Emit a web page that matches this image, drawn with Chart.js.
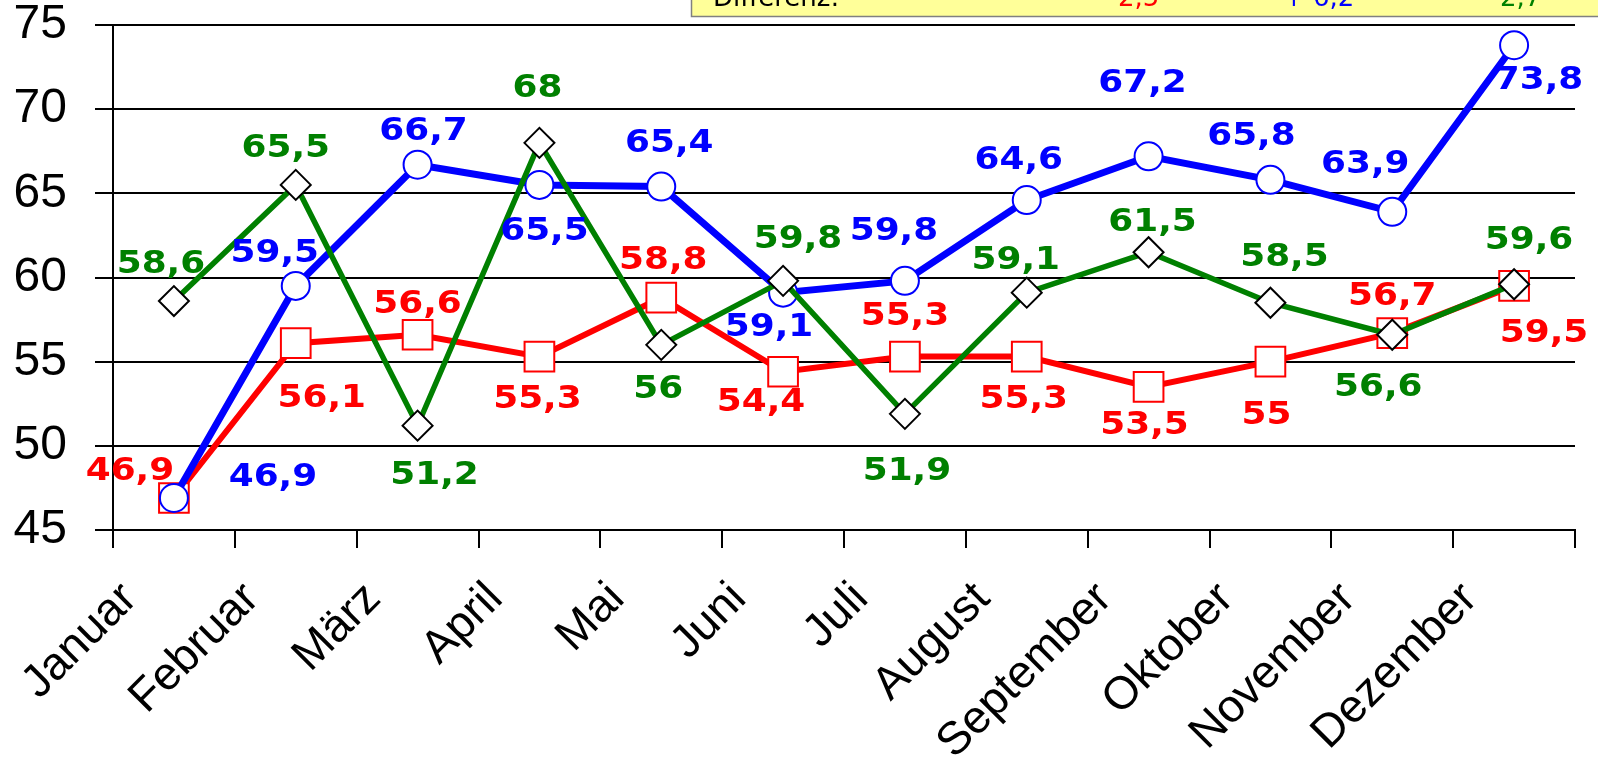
<!DOCTYPE html>
<html><head><meta charset="utf-8">
<script src="https://cdn.jsdelivr.net/npm/chart.js@4.4.1/dist/chart.umd.min.js"></script>
<style>html,body{margin:0;padding:0;background:#fff;overflow:hidden}#wrap{width:1598px;height:760px;position:relative}</style>
</head><body><div id="wrap"><canvas id="c"></canvas></div>
<script>
const months = ["Januar","Februar","März","April","Mai","Juni","Juli","August","September","Oktober","November","Dezember"];
const seriesRed   = [46.9, 56.1, 56.6, 55.3, 58.8, 54.4, 55.3, 55.3, 53.5, 55, 56.7, 59.5];
const seriesBlue  = [46.9, 59.5, 66.7, 65.5, 65.4, 59.1, 59.8, 64.6, 67.2, 65.8, 63.9, 73.8];
const seriesGreen = [58.6, 65.5, 51.2, 68, 56, 59.8, 51.9, 59.1, 61.5, 58.5, 56.6, 59.6];
const yMin = 45, yMax = 75, yStep = 5;
const boxTexts = ["Differenz:", "2,5", "+ 6,2", "2,7"];

// label placement (pixel offsets from each point) - styling only
const redLabelOffsets   = [[-44,-26],[26,56],[0,-30],[-2,43],[2,-37],[-22,31],[0,-40],[-3,43],[-4,39],[-4,54],[0,-36],[30,48]];
const blueLabelOffsets  = [[99,-20],[-21,-32],[6,-33],[5,47],[8,-43],[-14,35],[-11,-49],[-8,-39],[-6,-73],[-19,-43],[-27,-47],[25,35]];
const greenLabelOffsets = [[-13,-36],[-10,-36],[17,50],[-2,-54],[-3,45],[15,-41],[2,58],[-11,-32],[4,-30],[14,-45],[-14,53],[15,-44]];

const fmt = v => String(v).replace('.', ',');

const labelPlugin = {
  id: 'valueLabels',
  afterDatasetsDraw(chart) {
    const ctx = chart.ctx;
    chart.data.datasets.forEach((ds, di) => {
      const meta = chart.getDatasetMeta(di);
      meta.data.forEach((pt, i) => {
        const o = ds.labelOffsets[i];
        ctx.save();
        ctx.translate(pt.x + o[0], pt.y + o[1]);
        ctx.scale(1.12, 1);
        ctx.font = 'bold 32px "DejaVu Sans"';
        ctx.fillStyle = ds.labelColor;
        ctx.textAlign = 'center';
        ctx.textBaseline = 'middle';
        ctx.fillText(fmt(ds.data[i]), 0, 0);
        ctx.restore();
      });
    });
  }
};

const boxPlugin = {
  id: 'diffBox',
  afterDraw(chart) {
    const ctx = chart.ctx;
    ctx.save();
    ctx.fillStyle = '#FFFF99';
    ctx.strokeStyle = '#808080';
    ctx.lineWidth = 1.5;
    ctx.fillRect(691, -10, 1000, 26);
    ctx.beginPath();
    ctx.moveTo(691.5, -10); ctx.lineTo(691.5, 16.5); ctx.lineTo(1700, 16.5);
    ctx.stroke();
    ctx.font = '26px "DejaVu Sans"';
    ctx.textBaseline = 'alphabetic';
    ctx.textAlign = 'left';
    const xs = [713, 1118, 1283, 1500];
    const cols = ['#000000', '#FF0000', '#0000FF', '#008000'];
    boxTexts.forEach((t, i) => { ctx.fillStyle = cols[i]; ctx.fillText(t, xs[i], 6); });
    ctx.restore();
  }
};

new Chart(document.getElementById('c'), {
  type: 'line',
  data: {
    labels: months,
    datasets: [
      { label: 'rot', data: seriesRed, borderColor: '#FF0000', labelColor: '#FF0000', borderWidth: 6,
        pointStyle: 'rect', pointRadius: 21, pointBackgroundColor: '#FFFFFF', pointBorderColor: '#FF0000', pointBorderWidth: 2,
        tension: 0, order: 2, labelOffsets: redLabelOffsets },
      { label: 'blau', data: seriesBlue, borderColor: '#0000FF', labelColor: '#0000FF', borderWidth: 7,
        pointStyle: 'circle', pointRadius: 14, pointBackgroundColor: '#FFFFFF', pointBorderColor: '#0000FF', pointBorderWidth: 2,
        tension: 0, order: 1, labelOffsets: blueLabelOffsets },
      { label: 'grün', data: seriesGreen, borderColor: '#008000', labelColor: '#008000', borderWidth: 5.5,
        pointStyle: 'rectRot', pointRadius: 15, pointBackgroundColor: '#FFFFFF', pointBorderColor: '#000000', pointBorderWidth: 2,
        tension: 0, order: 0, labelOffsets: greenLabelOffsets }
    ]
  },
  options: {
    responsive: true,
    maintainAspectRatio: false,
    devicePixelRatio: 1,
    animation: false,
    layout: { padding: { top: 25, right: 9, left: 0, bottom: 0 } },
    plugins: { legend: { display: false }, tooltip: { enabled: false } },
    scales: {
      x: {
        offset: true,
        grid: { offset: true, drawOnChartArea: false, drawTicks: true, tickLength: 18, color: '#000', lineWidth: 2 },
        border: { display: true, color: '#000', width: 2 },
        ticks: { color: '#000', font: { family: 'Liberation Sans', size: 46 }, maxRotation: 45, minRotation: 45,
                 labelOffset: -44, padding: 24, autoSkip: false },
        afterFit: s => { s.height = 230; s.paddingLeft = 0; s.paddingRight = 0; }
      },
      y: {
        min: yMin, max: yMax,
        ticks: { stepSize: yStep, color: '#000', font: { family: 'Liberation Sans', size: 48 }, padding: 28 },
        grid: { color: '#000', lineWidth: 2, tickLength: 18 },
        border: { display: true, color: '#000', width: 2 },
        afterFit: s => { s.width = 113; s.paddingTop = 0; s.paddingBottom = 0; }
      }
    }
  },
  plugins: [labelPlugin, boxPlugin]
});
</script></body></html>
